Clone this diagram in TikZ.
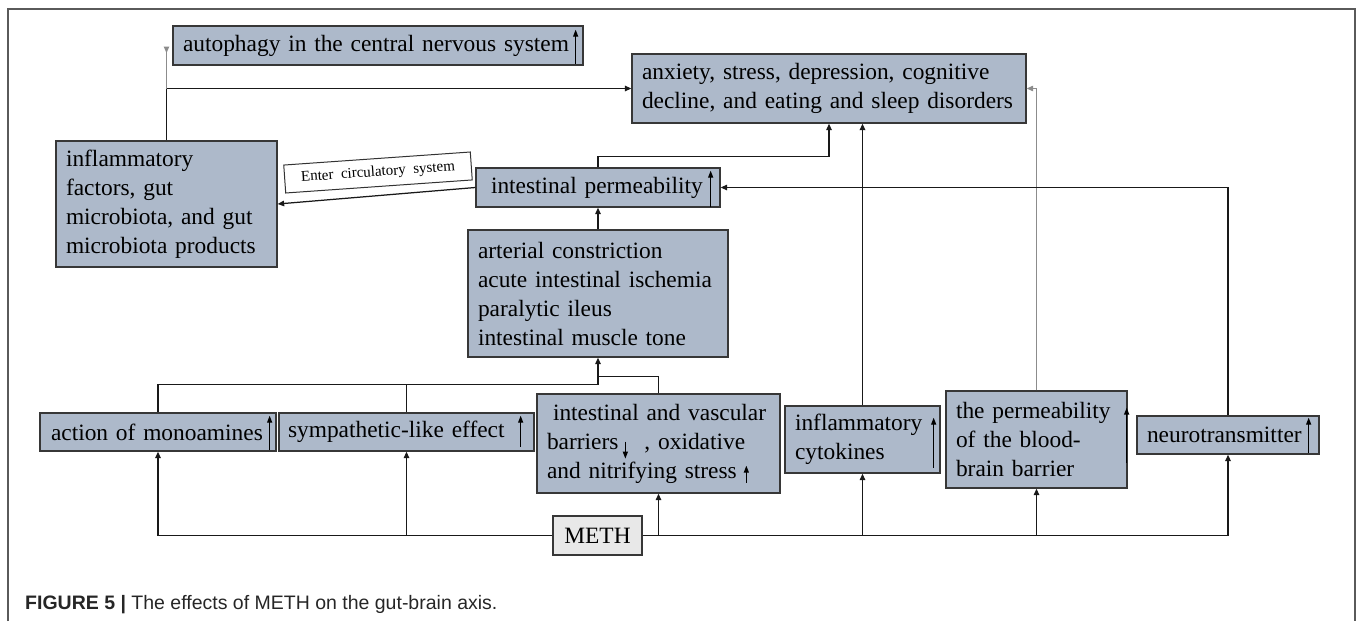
\documentclass[tikz,border=0pt]{standalone}
\usepackage{fontspec}
\setmainfont{Liberation Serif}
\newfontfamily\capfont{Liberation Sans}
\usetikzlibrary{arrows.meta,calc}
\definecolor{boxfill}{RGB}{173,185,202}
\definecolor{boxline}{RGB}{55,55,55}
\definecolor{methfill}{RGB}{232,232,232}
\definecolor{frame}{RGB}{90,90,90}
\newcommand{\ml}[1]{\mbox{#1}}
\begin{document}
\begin{tikzpicture}[x=1pt,y=-1pt,
  bx/.style={draw=boxline, line width=1.3pt, fill=boxfill, inner xsep=10pt, inner ysep=0pt,
    align=left, font=\fontsize{23.4}{29}\selectfont, anchor=center},
  conn/.style={draw=black!90, line width=1.25pt, -{Triangle[length=6.5pt,width=5.5pt]}},
  plain/.style={draw=black!90, line width=1.25pt},
  greyconn/.style={draw=black!45, line width=1pt, -{Triangle[length=6.5pt,width=5.5pt]}},
  inarr/.style={draw=black, line width=1.2pt, -{Triangle[length=7pt,width=5pt]}}]
\useasboundingbox (0,0) rectangle (1357,621);
% frame
\draw[frame, line width=1.2pt] (8,621) -- (8,9) -- (1355,9) -- (1355,621);

% boxes
\node[bx, text width=390pt, minimum height=39pt] (auto) at (378,45.5) {\ml{autophagy in the central nervous system}};
\node[bx, text width=374pt, minimum height=69pt] (anx) at (829,88.5) {\ml{anxiety, stress, depression, cognitive}\\\ml{decline, and eating and sleep disorders}};
\node[bx, text width=201pt, minimum height=126pt] (inflam) at (166.5,204) {\ml{inflammatory}\\\ml{factors, gut}\\\ml{microbiota, and gut}\\\ml{microbiota products}};
\node[bx, inner xsep=15pt, text width=214pt, minimum height=39pt] (intperm) at (598,187.5) {\ml{intestinal permeability}};
\node[bx, text width=240pt, minimum height=127pt] (arter) at (598,293.5) {\ml{arterial constriction}\\\ml{acute intestinal ischemia}\\\ml{paralytic ileus}\\\ml{intestinal muscle tone}};
\node[bx, inner xsep=11pt, text width=214pt, minimum height=38pt] (monoam) at (158,432) {\ml{action of monoamines}};
\node[bx, inner xsep=9pt, text width=237pt, minimum height=38pt] (symp) at (406.5,432) {\ml{sympathetic-like effect}};
\node[bx, text width=223pt, minimum height=99pt] (intvasc) at (658.5,443.5) {\ml{\hspace*{6pt}intestinal and vascular}\\\ml{barriers\hspace*{26pt}, oxidative}\\\ml{and nitrifying stress}};
\node[bx, text width=135pt, minimum height=67pt] (cyto) at (862.5,439.5) {\ml{inflammatory}\\\ml{cytokines}};
\node[bx, text width=161pt, minimum height=97pt] (bbb) at (1036.5,439.5) {\ml{the permeability}\\\ml{of the blood-}\\\ml{brain barrier}};
\node[bx, text width=162pt, minimum height=38pt] (neuro) at (1228,435) {\ml{neurotransmitter}};
\node[bx, fill=methfill, align=center, inner xsep=0pt, minimum width=89pt, minimum height=39pt] (meth) at (597.5,535.5) {METH};

% rotated label
\node[draw=black!80, line width=1pt, fill=white, rotate=4, minimum width=187pt, minimum height=28pt,
  inner sep=0pt, font=\fontsize{15}{17}\selectfont] (ecs) at (378,172.5) {Enter~ circulatory~ system};

% arrows inside boxes
\draw[inarr] ($(auto.south east)+(-8,-2)$) -- ++(0,-34);
\draw[inarr] ($(intperm.south east)+(-10,-1)$) -- ++(0,-36);
\draw[inarr] ($(monoam.south east)+(-7,-2)$) -- ++(0,-34);
\draw[inarr] ($(symp.south east)+(-14,-5)$) -- ++(0,-31);
\draw[inarr] ($(intvasc.south west)+(89,-52)$) -- ++(0,17);
\draw[inarr] ($(intvasc.south west)+(210,-11)$) -- ++(0,-17);
\draw[inarr] ($(cyto.south east)+(-7,-6)$) -- ++(0,-50);
\draw[inarr, line width=1.6pt] ($(bbb.south east)+(-1,-26)$) -- ++(0,-55);
\draw[inarr] ($(neuro.south east)+(-11,-2)$) -- ++(0,-35);

% junction coordinates
\coordinate (jTop) at (inflam.north |- anx.west);
\coordinate (jAuto) at ($(inflam.north |- auto.west)+(0,1)$);
\coordinate (jL) at ($(arter.south)+(0,27)$);
\coordinate (jR) at ($(arter.south)+(0,19)$);

% upper connectors
\draw[conn] (inflam.north) |- (anx.west);
\draw[greyconn, -{Triangle[length=6.5pt,width=5.5pt,reversed]}] (jTop) -- (jAuto);
\draw[conn] (intperm.west) -- (inflam.east);
\draw[conn] (intperm.north) -- ++(0,-11) -| (anx.south);
\draw[conn] (arter.north) -- (intperm.south);
\draw[conn] (monoam.north) |- (jL) -- (arter.south);
\draw[plain] (symp.north) -- (symp.north |- jL);
\draw[plain] (intvasc.north) |- (jR);
\draw[conn, line width=1.6pt] (cyto.north) -- (cyto.north |- anx.south);
\draw[greyconn] (bbb.north) |- (anx.east);
\draw[conn] (neuro.north) |- (intperm.east);

% METH connectors
\draw[conn] (meth.west) -| (monoam.south);
\draw[conn] (meth.west -| symp.south) -- (symp.south);
\draw[conn, line width=1.6pt] (meth.east) -| (neuro.south);
\draw[conn] (meth.east -| intvasc.south) -- (intvasc.south);
\draw[conn] (meth.east -| cyto.south) -- (cyto.south);
\draw[conn] (meth.east -| bbb.south) -- (bbb.south);

% caption
\node[anchor=base west, inner sep=0pt, text=black!85, font=\capfont\fontsize{19.5}{22}\selectfont] (cap) at (25,609)
  {\textbf{FIGURE 5 |} The effects of METH on the gut-brain axis.};
\end{tikzpicture}
\end{document}
